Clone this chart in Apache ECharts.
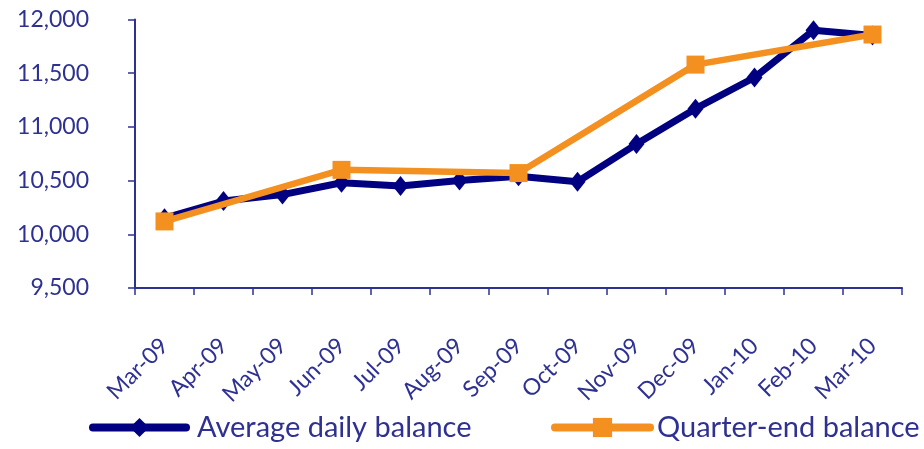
<!DOCTYPE html>
<html>
<head>
<meta charset="utf-8">
<script src="https://cdn.jsdelivr.net/npm/echarts@6/dist/echarts.min.js"></script>
<style>
html,body{margin:0;padding:0;background:#fff;}
#chart{width:924px;height:449px;}
</style>
</head>
<body>
<div id="chart"></div>
<script>
var categories = ['Mar-09','Apr-09','May-09','Jun-09','Jul-09','Aug-09','Sep-09','Oct-09','Nov-09','Dec-09','Jan-10','Feb-10','Mar-10'];
var averageDaily = [10150, 10310, 10370, 10480, 10450, 10500, 10540, 10490, 10840, 11170, 11460, 11900, 11850];
var quarterEnd = [10120, null, null, 10600, null, null, 10570, null, null, 11580, null, null, 11860];
var yTicks = {min: 9500, max: 12000, interval: 500};

var textColor = '#2E3192';
var fontFam = 'Lato, "Open Sans", sans-serif';

var chart = echarts.init(document.getElementById('chart'));
chart.setOption({
  animation: false,
  backgroundColor: '#fff',
  grid: {left: 135, right: 22, top: 19.5, bottom: 161, containLabel: false, outerBoundsMode: 'none'},
  legend: [
    {left: 84, top: 408, itemWidth: 93, itemHeight: 24, itemGap: 0, data: ['Average daily balance'],
     lineStyle: {width: 8, cap: 'round'},
     textStyle: {color: textColor, fontSize: 29, fontFamily: fontFam, padding: [0, 0, 0, 6]}},
    {left: 546, top: 408, itemWidth: 95, itemHeight: 24, itemGap: 0, data: ['Quarter-end balance'],
     lineStyle: {width: 8, cap: 'round'},
     textStyle: {color: textColor, fontSize: 29, fontFamily: fontFam, padding: [0, 0, 0, 2]}}
  ],
  xAxis: {
    type: 'category',
    data: categories,
    boundaryGap: true,
    axisLine: {lineStyle: {color: textColor, width: 2}},
    axisTick: {show: true, length: 7, lineStyle: {color: textColor, width: 1.5}},
    axisLabel: {rotate: 45, margin: 54, color: textColor, fontSize: 23, fontFamily: fontFam}
  },
  yAxis: [
    {
      type: 'value',
      min: yTicks.min, max: yTicks.max, interval: yTicks.interval,
      splitLine: {show: false},
      axisLine: {show: true, lineStyle: {color: textColor, width: 2}},
      axisTick: {show: true, length: 7, lineStyle: {color: textColor, width: 1.5}},
      axisLabel: {show: false}
    },
    {
      type: 'value', position: 'left', offset: 38,
      min: yTicks.min, max: yTicks.max, interval: yTicks.interval,
      splitLine: {show: false},
      axisLine: {show: false},
      axisTick: {show: false},
      axisLabel: {margin: 8, color: textColor, fontSize: 23, fontFamily: fontFam,
        formatter: function(v){ return v.toLocaleString('en-US'); }}
    }
  ],
  series: [
    {name: 'Average daily balance', type: 'line', data: averageDaily, yAxisIndex: 0,
     symbol: 'diamond', symbolSize: [16, 20],
     lineStyle: {color: '#000080', width: 7},
     itemStyle: {color: '#000080'}, z: 2},
    {name: 'Quarter-end balance', type: 'line', data: quarterEnd, connectNulls: true, yAxisIndex: 0,
     symbol: 'rect', symbolSize: 18,
     lineStyle: {color: '#F39020', width: 6.5},
     itemStyle: {color: '#F39020'}, z: 3}
  ]
});
</script>
</body>
</html>
